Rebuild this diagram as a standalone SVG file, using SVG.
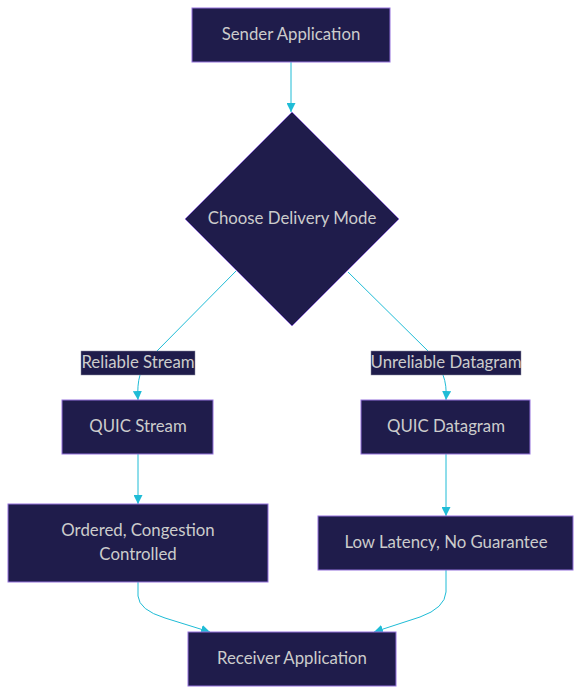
<svg xmlns="http://www.w3.org/2000/svg" width="581" height="694" viewBox="0 0 581 694">
<defs>
<style>
.node rect,.node polygon{fill:#1f1c4b;stroke:#9370db;stroke-width:1}
.node text,.elabel text{font-family:Lato,"Liberation Sans",sans-serif;font-size:16.8px;fill:#cccccc;text-anchor:middle;dominant-baseline:central}
.edge{fill:none;stroke:#1fbcd6;stroke-width:1}
.elabel rect{fill:#1f1c4b;stroke:#8a8aa0;stroke-width:0.5}
</style>
<marker id="arr" viewBox="0 0 10 10" refX="10" refY="5" markerWidth="9" markerHeight="9" markerUnits="userSpaceOnUse" orient="auto">
<path d="M0,0 L10,5 L0,10 z" fill="#1fbcd6"/>
</marker>
</defs>
<rect width="581" height="694" fill="#ffffff"/>
<g id="connectors">
<path class="edge" d="M291,62 L291,112" marker-end="url(#arr)"/>
<path class="edge" d="M236,271 L157,351"/>
<path class="edge" d="M140,375 Q137,385 138,400" marker-end="url(#arr)"/>
<path class="edge" d="M348,272 L428,351"/>
<path class="edge" d="M443,375 Q447,385 446,400" marker-end="url(#arr)"/>
<path class="edge" d="M138,454 L138,504" marker-end="url(#arr)"/>
<path class="edge" d="M446,454 L446,516" marker-end="url(#arr)"/>
<path class="edge" d="M138,582 L138,596 Q139,610 165,618 L210,632" marker-end="url(#arr)"/>
<path class="edge" d="M446,570 L446,592 Q445,608 420,617 L374,632" marker-end="url(#arr)"/>
</g>
<g id="label-reliable" class="elabel">
<rect x="81" y="351" width="114" height="24"/>
<text x="138" y="361.5">Reliable Stream</text>
</g>
<g id="label-unreliable" class="elabel">
<rect x="371" y="351" width="150" height="24"/>
<text x="446" y="361.5">Unreliable Datagram</text>
</g>
<g id="sender" class="node">
<rect x="192" y="8" width="198" height="54"/>
<text x="291" y="33.5">Sender Application</text>
</g>
<g id="choose" class="node">
<polygon points="292,112 399,219 292,326 185,219"/>
<text x="292" y="217.5">Choose Delivery Mode</text>
</g>
<g id="quic-stream" class="node">
<rect x="62" y="400" width="151" height="54"/>
<text x="138" y="425.5">QUIC Stream</text>
</g>
<g id="quic-datagram" class="node">
<rect x="361" y="400" width="169" height="54"/>
<text x="446" y="425.5">QUIC Datagram</text>
</g>
<g id="ordered" class="node">
<rect x="8" y="504" width="260" height="78"/>
<text x="138" y="529.5">Ordered, Congestion</text>
<text x="138" y="553.5">Controlled</text>
</g>
<g id="low-latency" class="node">
<rect x="318" y="516" width="255" height="54"/>
<text x="446" y="541.5">Low Latency, No Guarantee</text>
</g>
<g id="receiver" class="node">
<rect x="188" y="632" width="208" height="54"/>
<text x="292" y="657.5">Receiver Application</text>
</g>
</svg>
